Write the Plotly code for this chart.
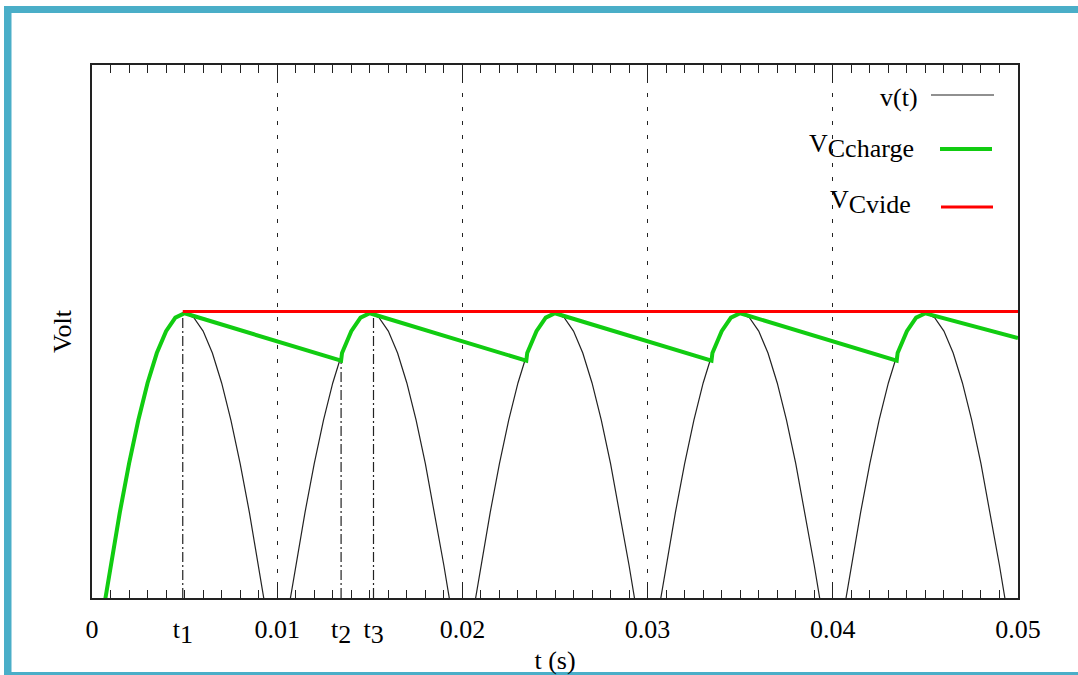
import plotly.graph_objects as go

# ---------------- data ----------------
# rectified sine v(t), samples every 0.5 ms
t_v = [0.0000, 0.0005, 0.0010, 0.0015, 0.0020, 0.0025, 0.0030, 0.0035, 0.0040, 0.0045,
       0.0050, 0.0055, 0.0060, 0.0065, 0.0070, 0.0075, 0.0080, 0.0085, 0.0090, 0.0095,
       0.0100, 0.0105, 0.0110, 0.0115, 0.0120, 0.0125, 0.0130, 0.0135, 0.0140, 0.0145,
       0.0150, 0.0155, 0.0160, 0.0165, 0.0170, 0.0175, 0.0180, 0.0185, 0.0190, 0.0195,
       0.0200, 0.0205, 0.0210, 0.0215, 0.0220, 0.0225, 0.0230, 0.0235, 0.0240, 0.0245,
       0.0250, 0.0255, 0.0260, 0.0265, 0.0270, 0.0275, 0.0280, 0.0285, 0.0290, 0.0295,
       0.0300, 0.0305, 0.0310, 0.0315, 0.0320, 0.0325, 0.0330, 0.0335, 0.0340, 0.0345,
       0.0350, 0.0355, 0.0360, 0.0365, 0.0370, 0.0375, 0.0380, 0.0385, 0.0390, 0.0395,
       0.0400, 0.0405, 0.0410, 0.0415, 0.0420, 0.0425, 0.0430, 0.0435, 0.0440, 0.0445,
       0.0450, 0.0455, 0.0460, 0.0465, 0.0470, 0.0475, 0.0480, 0.0485, 0.0490, 0.0495,
       0.0500]
v_v = [0.000, 0.156, 0.309, 0.454, 0.588, 0.707, 0.809, 0.891, 0.951, 0.988,
       1.000, 0.988, 0.951, 0.891, 0.809, 0.707, 0.588, 0.454, 0.309, 0.156,
       0.000, 0.156, 0.309, 0.454, 0.588, 0.707, 0.809, 0.891, 0.951, 0.988,
       1.000, 0.988, 0.951, 0.891, 0.809, 0.707, 0.588, 0.454, 0.309, 0.156,
       0.000, 0.156, 0.309, 0.454, 0.588, 0.707, 0.809, 0.891, 0.951, 0.988,
       1.000, 0.988, 0.951, 0.891, 0.809, 0.707, 0.588, 0.454, 0.309, 0.156,
       0.000, 0.156, 0.309, 0.454, 0.588, 0.707, 0.809, 0.891, 0.951, 0.988,
       1.000, 0.988, 0.951, 0.891, 0.809, 0.707, 0.588, 0.454, 0.309, 0.156,
       0.000, 0.156, 0.309, 0.454, 0.588, 0.707, 0.809, 0.891, 0.951, 0.988,
       1.000, 0.988, 0.951, 0.891, 0.809, 0.707, 0.588, 0.454, 0.309, 0.156,
       0.000]

# capacitor voltage with load (charge / discharge)
t_charge = [0.0000, 0.0005, 0.0010, 0.0015, 0.0020, 0.0025, 0.0030, 0.0035, 0.0040, 0.0045, 0.0050,
            0.01345, 0.0135, 0.0140, 0.0145, 0.0150,
            0.02345, 0.0235, 0.0240, 0.0245, 0.0250,
            0.03345, 0.0335, 0.0340, 0.0345, 0.0350,
            0.04345, 0.0435, 0.0440, 0.0445, 0.0450,
            0.0500]
v_charge = [0.000, 0.156, 0.309, 0.454, 0.588, 0.707, 0.809, 0.891, 0.951, 0.988, 1.000,
            0.870, 0.891, 0.951, 0.988, 1.000,
            0.870, 0.891, 0.951, 0.988, 1.000,
            0.870, 0.891, 0.951, 0.988, 1.000,
            0.870, 0.891, 0.951, 0.988, 1.000,
            0.932]

# capacitor voltage without load
t_vide = [0.0049, 0.0500]
v_vide = [1.005, 1.005]

# marked instants
mark_names = ["t1", "t2", "t3"]
mark_t = [0.0049, 0.01345, 0.0152]
mark_v = [1.000, 0.870, 1.000]

# x tick labels
FS = 26
sub = "<sub><span style='font-size:" + str(FS) + "px'>{}</span></sub>"
tick_vals = [0.0, mark_t[0], 0.01, mark_t[1], mark_t[2], 0.02, 0.03, 0.04, 0.05]
tick_text = ["0", "t" + sub.format(1), "0.01", "t" + sub.format(2), "t" + sub.format(3),
             "0.02", "0.03", "0.04", "0.05"]
grid_vals = [0.01, 0.02, 0.03, 0.04]
major_vals = [0.0, 0.01, 0.02, 0.03, 0.04, 0.05]

x_range = [0.0, 0.05]
y_range = [0.22, 1.68]

# ---------------- figure ----------------
FONT = "Liberation Serif"
INK = "#222222"
BLUE = "#4aaec8"

# guide lines for marked instants (from the bottom up to the curve)
gx, gy = [], []
for t, v in zip(mark_t, mark_v):
    gx += [t, t, None]
    gy += [y_range[0], v, None]

fig = go.Figure()
fig.add_trace(go.Scatter(x=t_v, y=v_v, mode="lines", name="v(t)",
                         line=dict(color=INK, width=1.2), hoverinfo="skip"))
fig.add_trace(go.Scatter(x=gx, y=gy, mode="lines", name="instants",
                         line=dict(color=INK, width=1.2, dash="10px,3px,2px,3px"),
                         hoverinfo="skip"))
fig.add_trace(go.Scatter(x=t_charge, y=v_charge, mode="lines", name="VCcharge",
                         line=dict(color="#11cc11", width=4), hoverinfo="skip"))
fig.add_trace(go.Scatter(x=t_vide, y=v_vide, mode="lines", name="VCvide", xaxis="x2",
                         line=dict(color="#ff0000", width=3), hoverinfo="skip"))
fig.add_trace(go.Scatter(x=[None], y=[None], mode="lines", xaxis="x3",
                         showlegend=False, hoverinfo="skip"))

L, R, T, B = 92, 60, 65, 77
W, H = 1078, 675
PW, PH = W - L - R, H - T - B


def px(x):
    return (x - L) / PW


def py(y):
    return (H - B - y) / PH


def tick_axis(side, vals, grid):
    return dict(range=x_range, overlaying="x", side=side, tickmode="array", tickvals=vals,
                ticks="inside", ticklen=16, tickwidth=1.2, tickcolor=INK,
                showticklabels=False, zeroline=False, showline=False, automargin=False,
                showgrid=grid, gridcolor=INK, gridwidth=1, griddash="4px,10px",
                minor=dict(tickmode="linear", tick0=0, dtick=0.001, ticks="inside",
                           ticklen=8, tickwidth=1.2, tickcolor=INK, showgrid=False))


fig.update_layout(
    width=W, height=H,
    margin=dict(l=L, r=R, t=T, b=B, autoexpand=False),
    paper_bgcolor="white", plot_bgcolor="white",
    showlegend=False,
    font=dict(family=FONT, size=FS, color="black"),
    xaxis=dict(range=x_range, tickmode="array", tickvals=tick_vals, ticktext=tick_text,
               ticks="", showgrid=False, zeroline=False, showline=True, mirror=True,
               linecolor=INK, linewidth=1.5, ticklabelstandoff=7, automargin=False,
               tickfont=dict(family=FONT, size=FS, color="black"),
               title=dict(text="t (s)", standoff=6, font=dict(family=FONT, size=FS))),
    xaxis2=tick_axis("top", major_vals, True),
    xaxis3=tick_axis("bottom", major_vals, False),
    yaxis=dict(range=y_range, showticklabels=False, ticks="", showgrid=False,
               zeroline=False, showline=True, mirror=True, linecolor=INK, linewidth=1.5,
               automargin=False,
               title=dict(text="Volt", standoff=11, font=dict(family=FONT, size=FS))),
)

# legend drawn gnuplot-style: text, then line sample
leg = [
    ("v(t)", INK, 1.2, 920, 97, 931, 994, 95),
    ("V" + sub.format("Ccharge"), "#11cc11", 4, 916, 146, 940, 992, 149),
    ("V" + sub.format("Cvide"), "#ff0000", 3, 913, 202, 941, 993, 207),
]
for text, col, lw, tx, ty, lx0, lx1, ly in leg:
    fig.add_annotation(text=text, xref="paper", yref="paper", x=px(tx), y=py(ty),
                       xanchor="right", yanchor="middle", showarrow=False,
                       font=dict(family=FONT, size=FS, color="black"))
    fig.add_shape(type="line", xref="paper", yref="paper", x0=px(lx0), x1=px(lx1),
                  y0=py(ly), y1=py(ly), line=dict(color=col, width=lw))

# blue page frame
for x0, x1, y0, y1 in [(4, 11.5, 6, 675), (4, 1078, 6, 13), (4, 1078, 672, 675)]:
    fig.add_shape(type="rect", xref="paper", yref="paper", x0=px(x0), x1=px(x1),
                  y0=py(y1), y1=py(y0), line=dict(width=0), fillcolor=BLUE, layer="above")

fig.write_html("out.html", config={"displayModeBar": False},
               post_script="document.body.style.margin='0px';")
